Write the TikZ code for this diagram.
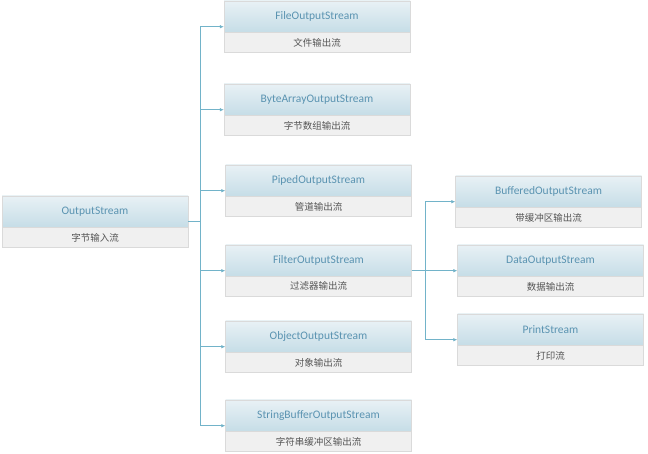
\documentclass[tikz,border=0pt]{standalone}
\usepackage{fontspec}
\setmainfont{Carlito}
\newfontfamily\cjk{Noto Sans CJK SC}
\usepackage{xcolor}
\usepackage{tikz}
\usetikzlibrary{calc, positioning, arrows.meta}

\definecolor{headtop}{HTML}{E8F1F5}
\definecolor{headbot}{HTML}{C6DDE7}
\definecolor{headtext}{HTML}{5A93B1}
\definecolor{subfill}{HTML}{F0F0F0}
\definecolor{subtext}{HTML}{555555}
\definecolor{edge}{HTML}{DADADA}
\definecolor{linkcol}{HTML}{72B3C9}

\begin{document}
\begin{tikzpicture}[x=1pt, y=1pt,
    head/.style={draw=edge, top color=headtop, bottom color=headbot,
        minimum width=186pt, minimum height=31pt, inner sep=0pt,
        text=headtext, font=\fontsize{11.5}{13}\selectfont},
    sub/.style={draw=edge, fill=subfill, minimum width=186pt,
        minimum height=20pt, inner sep=0pt, text=subtext,
        font=\cjk\fontsize{9.5}{11}\selectfont},
    link/.style={draw=linkcol, line width=0.6pt},
    arr/.style={link, -{Latex[length=4pt, width=3.5pt]}}]
    % 1. Khung
    \useasboundingbox (0,0) rectangle (648,454);

    % 2. Cac hop
    \foreach \nm/\x/\y/\title/\txt in {
        os/95/242.5/OutputStream/字节输入流,
        file/317/437.5/FileOutputStream/文件输出流,
        byte/317/354.5/ByteArrayOutputStream/字节数组输出流,
        piped/318.5/273.5/PipedOutputStream/管道输出流,
        filter/318.5/193.5/FilterOutputStream/过滤器输出流,
        object/318.5/117.5/ObjectOutputStream/对象输出流,
        sbuf/318.5/38.5/StringBufferOutputStream/字符串缓冲区输出流,
        buffered/548.5/262.5/BufferedOutputStream/带缓冲区输出流,
        data/550.5/193.5/DataOutputStream/数据输出流,
        print/550.5/124.5/PrintStream/打印流} {
        \node[head] (\nm) at (\x,\y) {\title};
        \node[sub, below=0pt of \nm] (\nm-sub) {\txt};
        \coordinate (\nm-in) at ($(\nm.north west)!.5!(\nm-sub.south west)$);
        \coordinate (\nm-out) at ($(\nm.north east)!.5!(\nm-sub.south east)$);
    }

    % 3. Duong noi tu OutputStream
    \path (os-out) -- ++(12,0) coordinate (split);
    \draw[link] (os-out) -- (split);
    \foreach \nm in {file, byte, piped, filter, object, sbuf}
        \draw[arr] (split) |- (\nm-in);

    % 4. Duong noi tu FilterOutputStream
    \path (filter-out) -- ++(13.5,0) coordinate (split2);
    \draw[link] (filter-out) -- (split2);
    \foreach \nm in {buffered, data, print}
        \draw[arr] (split2) |- (\nm-in);
\end{tikzpicture}
\end{document}
